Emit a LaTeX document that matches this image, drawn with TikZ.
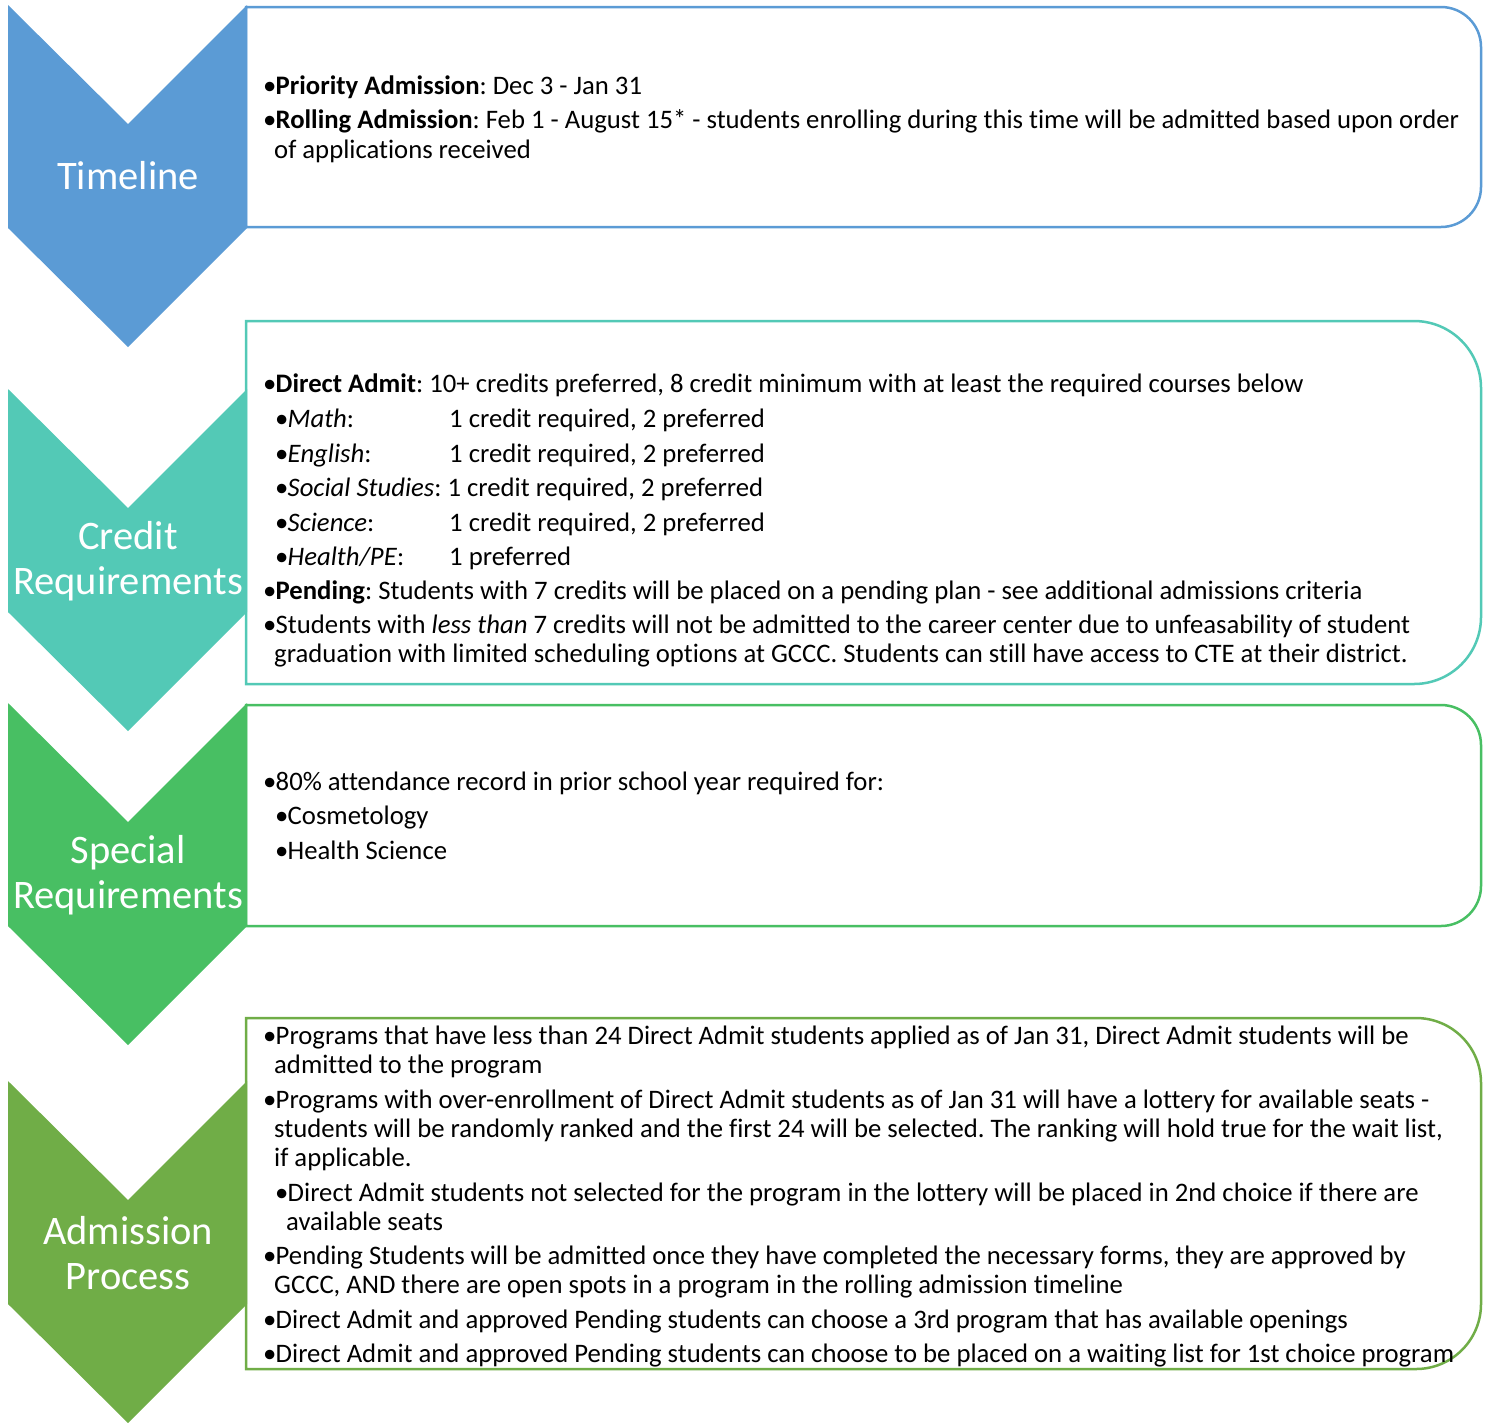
\documentclass[tikz,border=0pt]{standalone}
\usepackage{fontspec}
\setmainfont[Ligatures=NoCommon]{Carlito}
\frenchspacing
\definecolor{cblue}{HTML}{5B9BD5}
\definecolor{cteal}{HTML}{53C9B6}
\definecolor{cgreen}{HTML}{48BF63}
\definecolor{colive}{HTML}{70AD47}
\newcommand{\bu}{\makebox[12.5pt][l]{•}}
\begin{document}
\begin{tikzpicture}[x=1pt,y=1pt,
  panel/.style={line width=2.5pt, fill=white},
  lbl/.style={text=white, font=\fontsize{40.5}{45}\selectfont, align=center, inner sep=0pt},
  ln/.style={anchor=base west, inner sep=0pt, font=\fontsize{26.7}{30}\selectfont\frenchspacing},
  lns/.style={anchor=base west, inner sep=0pt, font=\fontsize{26.7}{28}\selectfont\frenchspacing}]
\useasboundingbox (0,0) rectangle (1488,-1422);
% panels
\draw[panel, draw=cblue] (246,-7) -- (1441,-7) arc[start angle=90,end angle=0,radius=40pt] -- (1481,-187) arc[start angle=0,end angle=-90,radius=40pt] -- (246,-227) -- cycle;
\draw[panel, draw=cteal] (246,-321) -- (1414,-321) arc[start angle=90,end angle=0,radius=67pt] -- (1481,-617) arc[start angle=0,end angle=-90,radius=67pt] -- (246,-684) -- cycle;
\draw[panel, draw=cgreen] (246,-705) -- (1441,-705) arc[start angle=90,end angle=0,radius=40pt] -- (1481,-886) arc[start angle=0,end angle=-90,radius=40pt] -- (246,-926) -- cycle;
\draw[panel, draw=colive] (246,-1018) -- (1416,-1018) arc[start angle=90,end angle=0,radius=65pt] -- (1481,-1304) arc[start angle=0,end angle=-90,radius=65pt] -- (246,-1369) -- cycle;
% chevrons
\fill[cblue]  (8,-5) -- (128,-124) -- (247,-5) -- (247,-228) -- (128,-347) -- (8,-228) -- cycle;
\fill[cteal]  (8,-389) -- (128,-508) -- (247,-389) -- (247,-612) -- (128,-731) -- (8,-612) -- cycle;
\fill[cgreen] (8,-703) -- (128,-822) -- (247,-703) -- (247,-926) -- (128,-1045) -- (8,-926) -- cycle;
\fill[colive] (8,-1081) -- (128,-1200) -- (247,-1081) -- (247,-1304) -- (128,-1423) -- (8,-1304) -- cycle;
\node[lbl] (l1) at (128,-176) {Timeline};
\node[lbl] (l2) at (128,-561) {Credit\\Requirements};
\node[lbl] (l3) at (128,-875) {Special\\Requirements};
\node[lbl] (l4) at (128,-1253) {Admission\\Process};
% box 1
\node[ln] (a1) at (263,-94) {\bu\textbf{Priority Admission}: Dec 3 - Jan 31};
\node[ln] (a2) at (263,-128) {\bu\textbf{Rolling Admission}: Feb 1 - August 15* - students enrolling during this time will be admitted based upon order};
\node[ln] (a3) at (274,-158) {of applications received};
% box 2
\node[ln] (b1) at (263,-392) {\bu\textbf{Direct Admit}: 10+ credits preferred, 8 credit minimum with at least the required courses below};
\node[ln] (b2) at (275,-427) {\bu\textit{Math}:};
\node[ln] (b2r) at (449,-427) {1 credit required, 2 preferred};
\node[ln] (b3) at (275,-462) {\bu\textit{English}:};
\node[ln] (b3r) at (449,-462) {1 credit required, 2 preferred};
\node[ln] (b4) at (275,-496) {\bu\textit{Social Studies}: 1 credit required, 2 preferred};
\node[ln] (b5) at (275,-531) {\bu\textit{Science}:};
\node[ln] (b5r) at (449,-531) {1 credit required, 2 preferred};
\node[ln] (b6) at (275,-565) {\bu\textit{Health/PE}:};
\node[ln] (b6r) at (449,-565) {1 preferred};
\node[ln] (b7) at (263,-599) {\bu\textbf{Pending}: Students with 7 credits will be placed on a pending plan - see additional admissions criteria};
\node[ln] (b8) at (263,-633) {\bu Students with \textit{less than} 7 credits will not be admitted to the career center due to unfeasability of student};
\node[ln] (b9) at (274,-662) {graduation with limited scheduling options at GCCC. Students can still have access to CTE at their district.};
% box 3
\node[ln] (c1) at (263,-790) {\bu 80\% attendance record in prior school year required for:};
\node[ln] (c2) at (275,-824) {\bu Cosmetology};
\node[ln] (c3) at (275,-859) {\bu Health Science};
% box 4
\node[lns] (d1) at (263,-1044) {\bu Programs that have less than 24 Direct Admit students applied as of Jan 31, Direct Admit students will be};
\node[lns] (d2) at (274,-1073) {admitted to the program};
\node[lns] (d3) at (263,-1108) {\bu Programs with over-enrollment of Direct Admit students as of Jan 31 will have a lottery for available seats -};
\node[lns] (d4) at (274,-1137) {students will be randomly ranked and the first 24 will be selected. The ranking will hold true for the wait list,};
\node[lns] (d5) at (274,-1166) {if applicable.};
\node[lns] (d6) at (275,-1201) {\bu Direct Admit students not selected for the program in the lottery will be placed in 2nd choice if there are};
\node[lns] (d7) at (286,-1230) {available seats};
\node[lns] (d8) at (263,-1264) {\bu Pending Students will be admitted once they have completed the necessary forms, they are approved by};
\node[lns] (d9) at (274,-1293) {GCCC, AND there are open spots in a program in the rolling admission timeline};
\node[lns] (d10) at (263,-1328) {\bu Direct Admit and approved Pending students can choose a 3rd program that has available openings};
\node[lns] (d11) at (263,-1362) {\bu Direct Admit and approved Pending students can choose to be placed on a waiting list for 1st choice program};
\end{tikzpicture}
\end{document}
